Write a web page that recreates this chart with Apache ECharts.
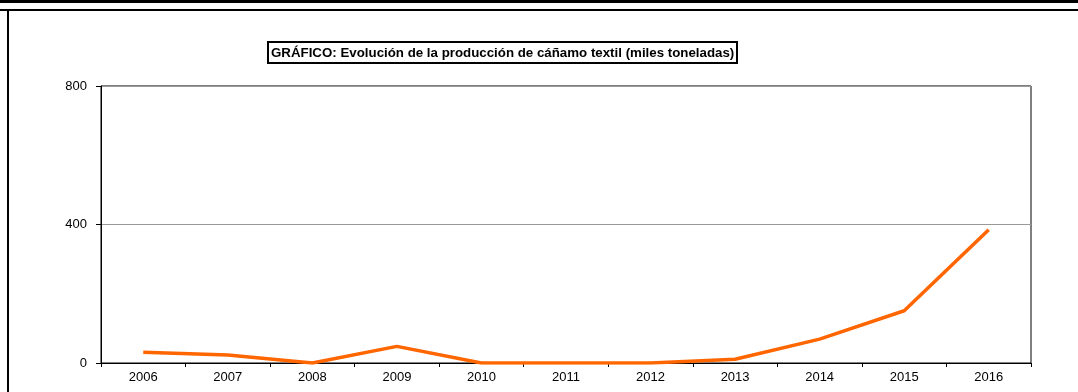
<!DOCTYPE html>
<html>
<head>
<meta charset="utf-8">
<script src="https://cdn.jsdelivr.net/npm/echarts@6/dist/echarts.min.js"></script>
<style>
html,body{margin:0;padding:0;background:#fff;}
#c{width:1078px;height:392px;}
</style>
</head>
<body>
<div id="c"></div>
<script>
const titleText = 'GRÁFICO: Evolución de la producción de cáñamo textil (miles toneladas)';
const years = ['2006','2007','2008','2009','2010','2011','2012','2013','2014','2015','2016'];
const production = [31, 23, 0, 48, 0, 0, 0, 11, 69, 151, 385];
const yTicks = [0, 400, 800];

const chart = echarts.init(document.getElementById('c'), null, {renderer: 'canvas'});
chart.setOption({
  animation: false,
  backgroundColor: '#fff',
  title: {
    text: titleText,
    left: 268,
    top: 42,
    padding: [3, 3, 2, 3],
    borderColor: '#000',
    borderWidth: 2,
    textStyle: {fontFamily: 'Liberation Sans, Arial, sans-serif', fontSize: 13.3, fontWeight: 'bold', color: '#000', lineHeight: 16}
  },
  graphic: [
    {type: 'rect', shape: {x: 0, y: 0, width: 1078, height: 3}, style: {fill: '#000'}},
    {type: 'line', shape: {x1: 0, y1: 10, x2: 1078, y2: 10}, style: {stroke: '#000', lineWidth: 2}},
    {type: 'line', shape: {x1: 8, y1: 9, x2: 8, y2: 392}, style: {stroke: '#000', lineWidth: 2}}
  ],
  grid: {left: 101, right: 47, top: 86, bottom: 29, show: true, borderColor: '#000', borderWidth: 1, backgroundColor: 'transparent'},
  xAxis: {
    type: 'category',
    data: years,
    boundaryGap: true,
    axisLine: {lineStyle: {color: '#000', width: 1}},
    axisTick: {show: true, length: 4, inside: false, alignWithLabel: false, lineStyle: {color: '#000'}},
    axisLabel: {margin: 8, fontFamily: 'Liberation Sans, Arial, sans-serif', fontSize: 13, color: '#000'},
    splitLine: {show: false}
  },
  yAxis: {
    type: 'value',
    min: yTicks[0],
    max: yTicks[yTicks.length - 1],
    interval: yTicks[1] - yTicks[0],
    axisLine: {show: true, lineStyle: {color: '#000', width: 1}},
    axisTick: {show: true, length: 5, inside: false, lineStyle: {color: '#000'}},
    axisLabel: {margin: 14, fontFamily: 'Liberation Sans, Arial, sans-serif', fontSize: 13, color: '#000'},
    splitLine: {show: true, lineStyle: {color: '#999', width: 1}}
  },
  series: [{
    type: 'line',
    data: production,
    symbol: 'none',
    smooth: false,
    lineStyle: {color: '#FF6600', width: 3.5},
    itemStyle: {color: '#FF6600'}
  }]
});
</script>
</body>
</html>
